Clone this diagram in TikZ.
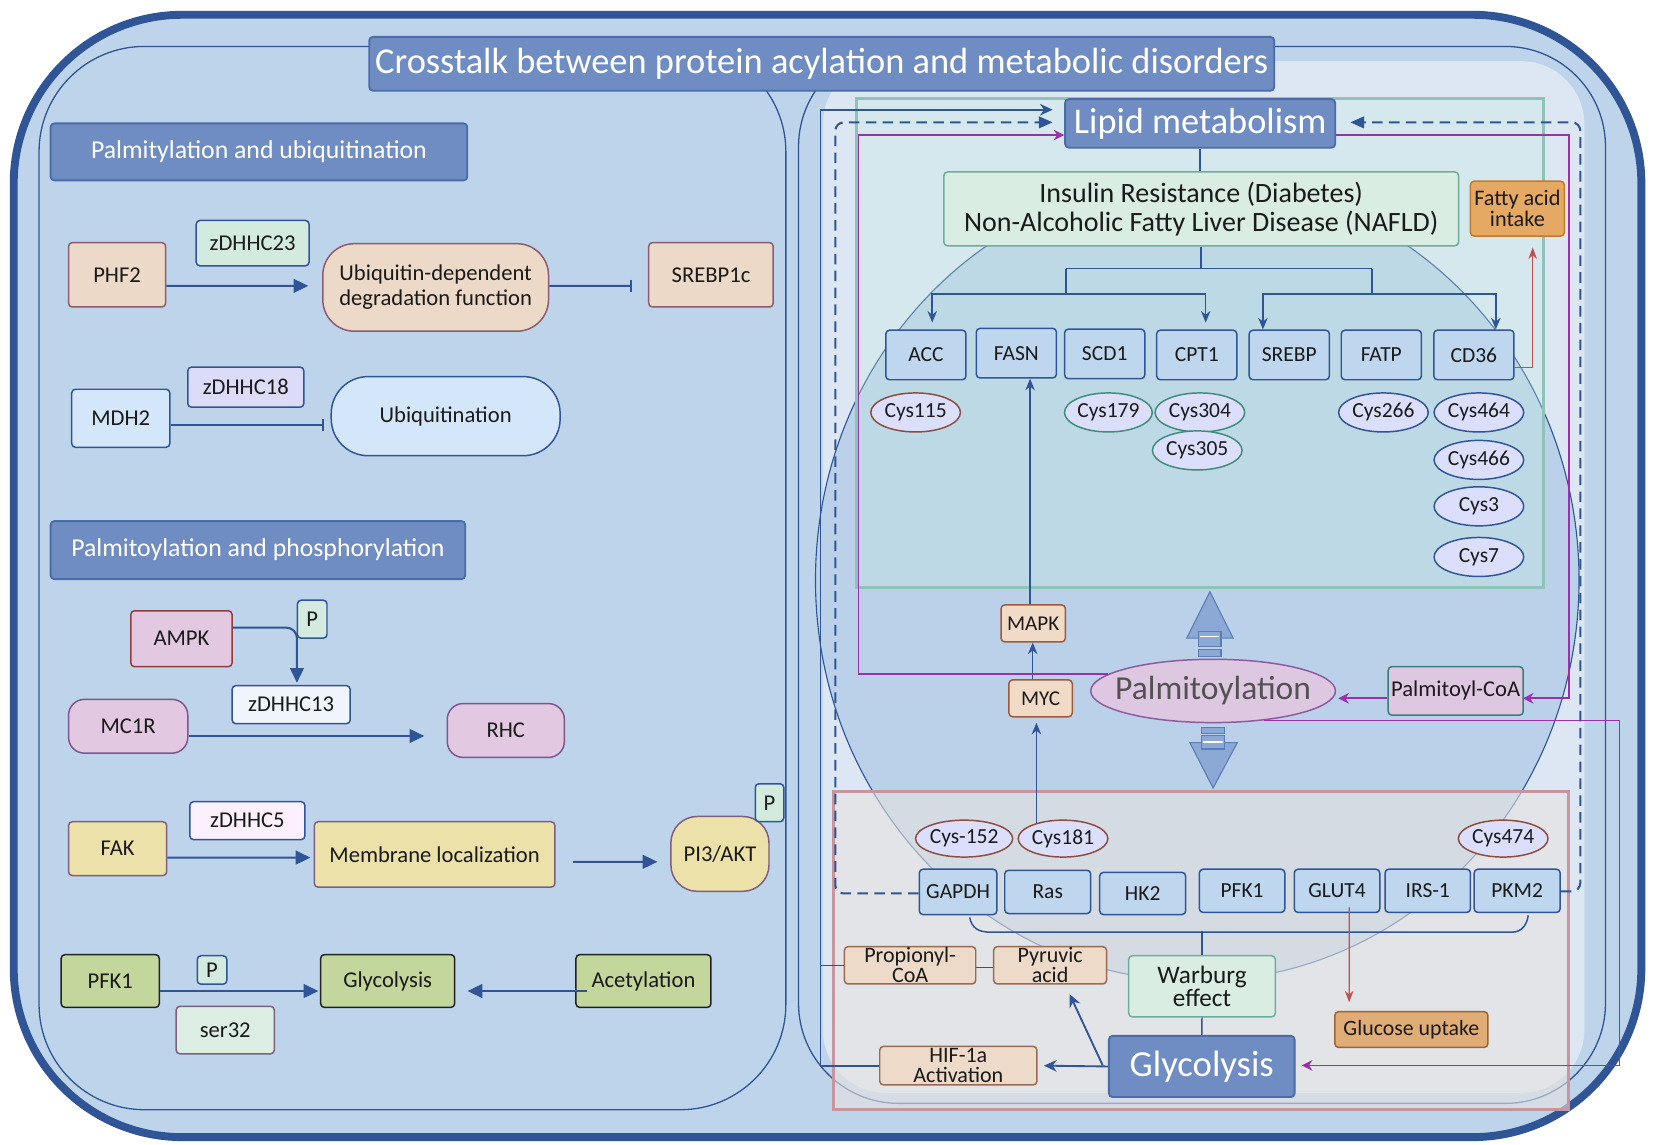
\documentclass[tikz,border=0pt]{standalone}
\usepackage{fontspec}
\setmainfont{Carlito}
\usetikzlibrary{arrows.meta,calc,shapes.geometric}
\definecolor{dblue}{HTML}{2F5597}
\definecolor{bgblue}{HTML}{BED4EA}
\definecolor{lightreg}{HTML}{DCE7F3}
\definecolor{ellfill}{HTML}{BAD1E9}
\definecolor{tealline}{HTML}{8FC2B9}
\definecolor{tealfill}{HTML}{C8EDE0}
\definecolor{pinkline}{HTML}{C7959F}
\definecolor{greyfill}{HTML}{E6E2E0}
\definecolor{hdrfill}{HTML}{6F8DC2}
\definecolor{hdrline}{HTML}{4A6CA8}
\definecolor{peachfill}{HTML}{ECD9C7}
\definecolor{peachline}{HTML}{8E5B70}
\definecolor{mdhfill}{HTML}{D4E7FA}
\definecolor{lavfill}{HTML}{DCDCF9}
\definecolor{mintfill}{HTML}{D3EBDF}
\definecolor{ampkline}{HTML}{943B3B}
\definecolor{mcfill}{HTML}{E2C9E1}
\definecolor{mcline}{HTML}{7E5590}
\definecolor{yelfill}{HTML}{EBE1A9}
\definecolor{yelline}{HTML}{7F5E80}
\definecolor{zfivefill}{HTML}{FBF0FB}
\definecolor{zthirfill}{HTML}{F0F5FC}
\definecolor{grnfill}{HTML}{C3D69B}
\definecolor{grnline}{HTML}{222222}
\definecolor{serfill}{HTML}{DCEDE4}
\definecolor{rowfill}{HTML}{BED6EE}
\definecolor{cysfill}{HTML}{DCDFFB}
\definecolor{brownline}{HTML}{8C4D3F}
\definecolor{tealdark}{HTML}{3F8C7A}
\definecolor{mapkfill}{HTML}{F1DBC7}
\definecolor{mapkline}{HTML}{9C5C3C}
\definecolor{palmfill}{HTML}{DEC7E1}
\definecolor{palmline}{HTML}{8C5C9F}
\definecolor{pcoaline}{HTML}{3C7C79}
\definecolor{insfill}{HTML}{D9EDE2}
\definecolor{insline}{HTML}{6DAE9C}
\definecolor{faifill}{HTML}{E6A963}
\definecolor{failine}{HTML}{C27A2B}
\definecolor{glufill}{HTML}{E0AD77}
\definecolor{gluline}{HTML}{9E6332}
\definecolor{propfill}{HTML}{EDDAC8}
\definecolor{propline}{HTML}{9A6A52}
\definecolor{purp}{HTML}{9C2FAE}
\definecolor{redarr}{HTML}{C0504D}
\definecolor{blkfill}{HTML}{8CA8D5}
\definecolor{blkline}{HTML}{5B7DB8}
\definecolor{txt}{HTML}{1A1A1A}
\begin{document}
\begin{tikzpicture}[x=0.02cm,y=-0.02cm,
  every node/.style={font=\fontsize{12.2}{13.5}\selectfont, text=txt},
  wh/.style 2 args={minimum width=#1*0.02cm, minimum height=#2*0.02cm},
  bx/.style={draw, line width=0.8pt, align=center, inner sep=0pt, rounded corners=2pt},
  hdr/.style={bx, fill=hdrfill, draw=hdrline, text=white, line width=1pt},
  peach/.style={bx, fill=peachfill, draw=peachline},
  yel/.style={bx, fill=yelfill, draw=yelline},
  grn/.style={bx, fill=grnfill, draw=grnline},
  row/.style={bx, fill=rowfill, draw=dblue, wh={76}{47}, font=\fontsize{11.6}{13}\selectfont},
  cys/.style={draw, ellipse, line width=0.8pt, fill=cysfill, inner sep=0pt, wh={85}{37}, font=\fontsize{11.6}{13}\selectfont},
  prp/.style={bx, fill=propfill, draw=propline, font=\fontsize{11.9}{10.8}\selectfont},
  arr/.style={line width=1.1pt, draw=dblue, -{Triangle[length=0.28cm,width=0.26cm]}},
  inh/.style={line width=1.1pt, draw=dblue, -{Bar[width=0.24cm,line width=1.1pt]}},
  conn/.style={line width=0.8pt, draw=dblue},
  tarr/.style={conn, -{Stealth[length=0.22cm,width=0.18cm]}},
  tarrb/.style={conn, {Stealth[length=0.22cm,width=0.18cm]}-{Stealth[length=0.22cm,width=0.18cm]}},
  sarr/.style={line width=1pt, draw=dblue, -{Stealth[length=0.24cm,width=0.22cm]}},
  darr/.style={line width=1.1pt, draw=dblue, dash pattern=on 0.2cm off 0.12cm, rounded corners=0.16cm, -{Triangle[length=0.26cm,width=0.22cm]}},
  parr/.style={line width=0.9pt, draw=purp, -{Stealth[length=0.2cm,width=0.2cm]}},
  rarr/.style={line width=0.7pt, draw=redarr, -{Stealth[length=0.22cm,width=0.16cm]}},
  blk/.style={fill=blkfill, draw=blkline, line width=0.6pt}
]
\useasboundingbox (0,0) rectangle (1568,1085);
\fill[white] (0,0) rectangle (1568,1085);
% backgrounds
\draw[line width=0.15cm, draw=dblue, fill=bgblue, rounded corners=3.2cm] (13,14) rectangle (1556,1078);
\draw[line width=0.7pt, draw=dblue, fill=bgblue, rounded corners=2cm] (37,44) rectangle (745,1052);
\draw[line width=0.7pt, draw=dblue, fill=bgblue, rounded corners=1.9cm] (757,44) rectangle (1522,1046);
\fill[lightreg, rounded corners=1.2cm] (780,58) rectangle (1502,1036);
\draw[line width=0.6pt, draw=dblue, fill=ellfill] (1135,550) ellipse [x radius=7.24cm, y radius=7.6cm];
\draw[line width=1.6pt, draw=tealline, fill=tealfill, fill opacity=0.3] (812,93) rectangle (1463,557);
\draw[line width=1.6pt, draw=pinkline, fill=greyfill, fill opacity=0.6] (790,750) rectangle (1487,1052);

% title
\node[hdr, wh={858}{51}, font=\fontsize{19.65}{22}\selectfont] (title) at (779,60.5) {Crosstalk between protein acylation and metabolic disorders};

% ---------- left panel ----------
\node[hdr, wh={395}{54}, font=\fontsize{13.9}{16}\selectfont] (h1) at (245.5,144) {Palmitylation and ubiquitination};
\node[peach, wh={92}{61}] (phf2) at (111,260.5) {PHF2};
\node[bx, fill=mintfill, draw=dblue, wh={107}{43}] (z23) at (239.5,230.5) {zDHHC23};
\node[peach, wh={214}{83}, rounded corners=0.6cm] (ubdeg) at (413,272.5) {Ubiquitin-dependent\\degradation function};
\node[peach, wh={118}{61}] (srebp1c) at (674,260.5) {SREBP1c};
\node[bx, fill=mdhfill, draw=dblue, wh={93}{55}] (mdh2) at (114.5,396.5) {MDH2};
\node[bx, fill=lavfill, draw=dblue, wh={110}{38}] (z18) at (233,367) {zDHHC18};
\node[bx, fill=mdhfill, draw=dblue, wh={217}{75}, rounded corners=0.7cm] (ubiq) at (422.5,394.5) {Ubiquitination};
\node[hdr, wh={393}{55}, font=\fontsize{13.9}{16}\selectfont] (h2) at (244.5,521.5) {Palmitoylation and phosphorylation};
\node[bx, fill=mcfill, draw=ampkline, wh={96}{53}] (ampk) at (172,605.5) {AMPK};
\node[bx, fill=mintfill, draw=dblue, wh={28}{36}] (pA) at (296,587) {P};
\node[bx, fill=zthirfill, draw=dblue, wh={112}{36}] (z13) at (276,668) {zDHHC13};
\node[bx, fill=mcfill, draw=mcline, wh={113}{51}, rounded corners=0.3cm] (mc1r) at (121.5,688.5) {MC1R};
\node[bx, fill=mcfill, draw=mcline, wh={111}{51}, rounded corners=0.3cm] (rhc) at (479.5,692.5) {RHC};
\node[yel, wh={93}{51}] (fak) at (111.5,804.5) {FAK};
\node[bx, fill=zfivefill, draw=dblue, wh={109}{36}] (z5) at (234.5,778) {zDHHC5};
\node[yel, wh={228}{62}] (memb) at (412,810) {Membrane localization};
\node[yel, wh={93}{71}, rounded corners=0.5cm] (pi3) at (682.5,809.5) {PI3/AKT};
\node[bx, fill=mintfill, draw=dblue, wh={27}{36}] (pB) at (729.5,761) {P};
\node[grn, wh={93}{50}] (pfkL) at (104.5,930) {PFK1};
\node[bx, fill=mintfill, draw=dblue, wh={28}{27}] (pC) at (201,919.5) {P};
\node[bx, fill=serfill, draw=yelline, wh={93}{45}] (ser32) at (213.5,976.5) {ser32};
\node[grn, wh={127}{50}] (glyL) at (367.5,930) {Glycolysis};
\node[grn, wh={128}{50}] (acet) at (610,930) {Acetylation};

\draw[arr] ($(phf2.east)+(0,10.5)$) -- ($(ubdeg.west)+(-13,-1.5)$);
\draw[inh] ($(ubdeg.east)+(0,-1.5)$) -- ($(srebp1c.west)+(-15,10.5)$);
\draw[inh] ($(mdh2.east)+(0,6.5)$) -- ($(ubiq.west)+(-6.5,8.5)$);
\draw[arr, rounded corners=0.2cm] ($(ampk.east)+(0,-10.5)$) -| ($(z13.north)+(5.5,-2)$);
\draw[arr] ($(mc1r.east)+(0,9.2)$) -- ($(rhc.west)+(-21,5.2)$);
\draw[arr] ($(fak.east)+(0,8.5)$) -- ($(memb.west)+(-3,3)$);
\draw[arr] ($(memb.east)+(16.5,7)$) -- ($(pi3.west)+(-12,7.5)$);
\draw[arr] ($(pfkL.east)+(0,9.5)$) -- ($(glyL.west)+(-1.5,9.5)$);
\draw[arr] ($(acet.west)+(11.5,9.5)$) -- ($(glyL.east)+(11.5,9.5)$);

% ---------- right panel ----------
\node[hdr, wh={256}{46}, font=\fontsize{19.6}{21}\selectfont] (lipid) at (1137.75,117) {Lipid metabolism};
\node[bx, fill=insfill, draw=insline, wh={488}{70}, font=\fontsize{15.1}{15.5}\selectfont] (insulin) at (1138.75,198) {Insulin Resistance (Diabetes)\\Non-Alcoholic Fatty Liver Disease (NAFLD)};
\node[bx, fill=faifill, draw=failine, wh={89}{52}, font=\fontsize{12}{11.5}\selectfont] (fai) at (1438.5,197.8) {Fatty acid\\intake};
\node[row] (acc) at (877.75,336.5) {ACC};
\node[row] (fasn) at (963.5,334.8) {FASN};
\node[row] (scd1) at (1047.25,335.5) {SCD1};
\node[row] (cpt1) at (1134.5,336.5) {CPT1};
\node[row] (srebp) at (1222.25,336.5) {SREBP};
\node[row] (fatp) at (1309.5,336.5) {FATP};
\node[row] (cd36) at (1397.25,336.5) {CD36};
\node[cys, draw=brownline] (c115) at (868,391) {Cys115};
\node[cys, draw=tealdark, wh={81}{37}] (c179) at (1050.75,391) {Cys179};
\node[cys, draw=tealdark] (c304) at (1137.5,391) {Cys304};
\node[cys, draw=tealdark] (c305) at (1135,427) {Cys305};
\node[cys, draw=dblue] (c266) at (1311.5,391) {Cys266};
\node[cys, draw=dblue] (c464) at (1402,391) {Cys464};
\node[cys, draw=dblue] (c466) at (1402,436) {Cys466};
\node[cys, draw=dblue] (c3) at (1402,480) {Cys3};
\node[cys, draw=dblue] (c7) at (1402,528) {Cys7};

\node[bx, fill=mapkfill, draw=mapkline, wh={61}{35}, font=\fontsize{11.4}{13}\selectfont] (mapk) at (979.5,591) {MAPK};
\node[bx, fill=mapkfill, draw=mapkline, wh={60}{35}, font=\fontsize{11.4}{13}\selectfont] (myc) at (986.5,662) {MYC};
\node[draw=palmline, ellipse, line width=0.8pt, fill=palmfill, inner xsep=-0.26cm, inner ysep=0pt, wh={232}{60}, font=\fontsize{18.1}{20}\selectfont, text=black!68] (palm) at (1150,655) {Palmitoylation};
\node[bx, fill=palmfill, draw=pcoaline, wh={128}{46}, font=\fontsize{12.2}{13}\selectfont] (pcoa) at (1380,655) {Palmitoyl-CoA};

% block arrows
\filldraw[blk] (1147,561) -- (1169,605) -- (1125,605) -- cycle;
\filldraw[blk] (1136,599) rectangle (1157.5,613);
\draw[white, line width=0.8pt] (1137.5,603.5) -- (1156,603.5);
\filldraw[blk] (1136,616) rectangle (1157.5,622);
\filldraw[blk] (1139,690) rectangle (1161,695);
\filldraw[blk] (1128,704) -- (1173,704) -- (1150,747) -- cycle;
\filldraw[blk] (1139,697) rectangle (1161,710);
\draw[white, line width=0.8pt] (1140.5,703.5) -- (1159.5,703.5);

\node[cys, draw=brownline, wh={85}{35}] (c152) at (914,795) {Cys-152};
\node[cys, draw=brownline, wh={85}{35}] (c181) at (1007.75,795) {Cys181};
\node[cys, draw=brownline, wh={85}{35}] (c474) at (1425,795) {Cys474};
\node[row, wh={73.5}{43}] (gapdh) at (908.25,845.5) {GAPDH};
\node[row, wh={81.5}{41}] (ras) at (993.25,845.5) {Ras};
\node[row, wh={81.5}{40}] (hk2) at (1083.25,847) {HK2};
\node[row, wh={81}{41}] (pfkR) at (1177.5,844.5) {PFK1};
\node[row, wh={81}{41}] (glut4) at (1267.5,844.5) {GLUT4};
\node[row, wh={81}{41}] (irs1) at (1353.5,844.5) {IRS-1};
\node[row, wh={81.5}{41}] (pkm2) at (1438.25,844.5) {PKM2};
\node[bx, fill=insfill, draw=insline, wh={139}{58}, font=\fontsize{13.6}{12.5}\selectfont] (warburg) at (1139.5,935) {Warburg\\effect};
\node[hdr, wh={176}{58}, font=\fontsize{19.8}{22}\selectfont] (glyR) at (1139.25,1011) {Glycolysis};
\node[bx, fill=glufill, draw=gluline, wh={145}{34}, font=\fontsize{11.8}{13}\selectfont] (glu) at (1338,976) {Glucose uptake};
\node[prp, wh={124.5}{35.4}] (prop) at (862.75,915.1) {Propionyl-\\CoA};
\node[prp, wh={107}{35.4}] (pyr) at (995.5,915.1) {Pyruvic\\acid};
\node[prp, wh={149}{36.5}] (hif) at (908.5,1010.25) {HIF-1a\\Activation};

% connectors right
\draw[conn] (lipid.south) -- (lipid.south |- insulin.north);
\coordinate (t0) at ($(insulin.south)+(0,21)$);
\draw[conn] (insulin.south) -- (t0);
\coordinate (tl) at ($(t0)+(-128.25,0)$);
\coordinate (tr) at ($(t0)+(161.75,0)$);
\draw[conn] (tl) -- (tr);
\coordinate (tl2) at ($(tl)+(0,24)$);
\coordinate (tr2) at ($(tr)+(0,24)$);
\draw[conn] (tl) -- (tl2);
\draw[conn] (tr) -- (tr2);
\draw[tarrb] ($(acc.north)+(6,-6.5)$) |- (tl2) -| ($(cpt1.north)+(8.5,-6.5)$);
\draw[tarrb] ($(srebp.north)+(-25,0)$) |- (tr2) -| ($(cd36.north)+(20.75,0)$);
\draw[rarr] ($(cd36.east)+(0,12)$) -| ($(fai.south)+(14.5,10)$);
\draw[tarr] ($(mapk.north)+(-3,0)$) -- ($(fasn.south)+(13,0)$);
\draw[tarr] ($(myc.north)+(-7.5,0)$) -- ($(mapk.south)+(-0.5,0)$);
\draw[tarr] ($(c181.north)+(-25.25,3)$) -- ($(myc.south)+(-4,5)$);

\draw[parr] (palm.171) -| ($(lipid.west)+(-195,11)$) -- ($(lipid.west)+(0,11)$);
\draw[parr] ($(lipid.east)+(0,11)$) -| ($(pcoa.east)+(43,7)$) -- ($(pcoa.east)+(-1,7)$);
\draw[parr] ($(pcoa.west)+(0,7)$) -- ($(palm.east)+(2,7)$);
\draw[parr] (palm.-30) -| ($(glyR.east)+(307,-1)$) -- ($(glyR.east)+(6,-1)$);

\draw[darr] ($(gapdh.west)+(0,1.5)$) -| ($(lipid.west)+(-217,-1)$) -- ($(lipid.west)+(-11,-1)$);
\draw[darr] ($(pkm2.east)+(0,0.5)$) -| ($(lipid.east)+(231.5,-1)$) -- ($(lipid.east)+(13.5,-1)$);
\draw[sarr] (hif.west) -| ($(lipid.west)+(-231,-13)$) -- ($(lipid.west)+(-11,-13)$);
\draw[conn] (prop.west) -- ++(-21.5,0);
\draw[conn] ($(prop.east)+(0,2)$) -- ($(pyr.west)+(0,2)$);

\draw[conn] ($(gapdh.south)+(11,2)$) .. controls +(2,10) and +(-12,0) .. ($(gapdh.south)+(31,16)$) -- ($(pkm2.south)+(-5,18)$) .. controls +(10,0) and +(-1,8) .. ($(pkm2.south)+(10.5,2)$);
\draw[conn] ($(warburg.north)+(0,-23)$) -- (warburg.north);
\draw[conn] (warburg.south) -- (glyR.north);
\draw[sarr] (glyR.west) -- ($(hif.east)+(6,0)$);
\draw[sarr] ($(glyR.west)+(-5,-1)$) -- ($(pyr.south)+(18.5,9)$);
\draw[rarr] ($(glut4.south)+(11.5,-5.5)$) -- ($(glu.north)+(-59,-8)$);
\end{tikzpicture}
\end{document}
